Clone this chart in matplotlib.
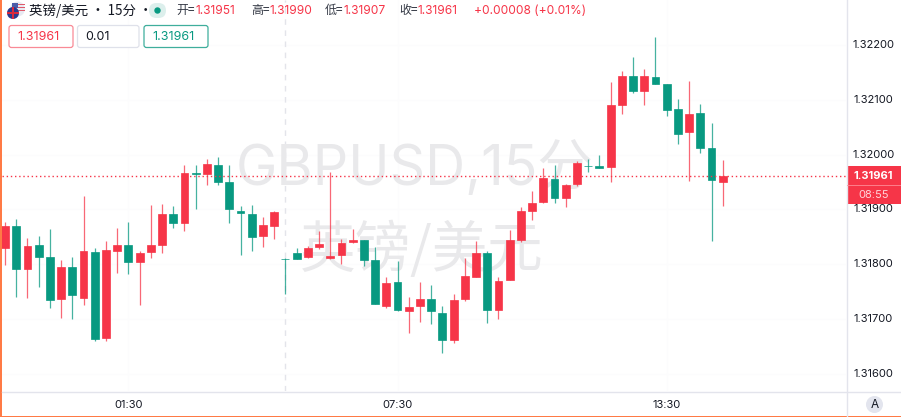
import matplotlib
matplotlib.use("Agg")
import matplotlib.pyplot as plt
from matplotlib.patches import FancyBboxPatch, Rectangle, Circle, Polygon
import numpy as np

opens = [131829,131870,131791,131835,131813,131737,131796,131739,131822,131666,131825,131835,131805,131822,131835,131892,131876,131966,131965,131982,131950,131898,131892,131851,131869,131810,131820,131813,131831,131811,131817,131841,131844,131808,131724,131768,131715,131724,131737,131712,131662,131737,131777,131820,131717,131772,131844,131898,131914,131956,131921,131946,131980,131979,131977,132091,132143,132116,132142,132128,132083,132041,132076,132013,131951]
highs = [131877,131883,131848,131852,131864,131808,131814,131925,131830,131842,131866,131878,131825,131909,131910,131906,131981,131981,131992,131996,131981,131906,131908,131886,131897,131812,131830,131833,131861,131968,131847,131865,131845,131832,131777,131806,131740,131767,131763,131724,131745,131811,131843,131824,131777,131863,131905,131934,131976,131981,131946,131988,131992,131999,132132,132153,132178,132156,132215,132129,132102,132134,132092,132057,131990]
lows = [131799,131741,131739,131759,131721,131703,131700,131726,131661,131661,131785,131782,131726,131812,131821,131867,131861,131901,131945,131945,131876,131817,131824,131832,131846,131746,131810,131812,131828,131809,131801,131839,131797,131728,131721,131714,131675,131695,131691,131639,131657,131733,131776,131693,131701,131772,131841,131880,131912,131912,131904,131943,131969,131975,131951,132074,132112,132091,132128,132071,132019,131952,132003,131843,131907]
closes = [131870,131791,131834,131814,131735,131796,131744,131824,131664,131826,131836,131805,131821,131835,131892,131875,131967,131965,131983,131951,131900,131894,131849,131872,131896,131809,131810,131830,131837,131815,131839,131844,131808,131728,131766,131717,131723,131737,131714,131662,131735,131779,131821,131717,131770,131844,131898,131912,131957,131921,131945,131985,131979,131975,132090,132143,132117,132143,132128,132081,132037,132075,132013,131953,131961]
price_scale = 1e-5
y_ticks = [1.316, 1.317, 1.318, 1.319, 1.320, 1.321, 1.322]
x_tick_bars = [11, 35, 59]
x_tick_labels = ["01:30", "07:30", "13:30"]
session_bar = 25
last_price = 1.31961
countdown = "08:55"

W, H = 901, 417
RED = "#F63548"; GREEN = "#089981"; GREY = "#131722"; WM = "#E9E9EB"
CJK = ["Noto Sans CJK SC", "DejaVu Sans"]
LAT = ["Inter", "Noto Sans CJK SC", "DejaVu Sans"]
plt.rcParams["font.family"] = LAT

fig = plt.figure(figsize=(W/100, H/100), dpi=100, facecolor="white")

# main price pane: pixel box x 2..846, y 0..391
ax = fig.add_axes([2/W, 1-391/H, 844/W, 391/H])
ppu = 54830  # px per 1.0 price
ax.set_ylim(1.322 - (391-45)/ppu, 1.322 + 45/ppu)
pxbar = 11.215
ax.set_xlim((2-5)/pxbar, (846-5)/pxbar)
ax.set_facecolor("white")
for s in ax.spines.values():
    s.set_visible(False)
ax.set_yticks([]); ax.set_xticks([])

idx = np.arange(len(opens))
o = np.array(opens)*price_scale; h = np.array(highs)*price_scale
l = np.array(lows)*price_scale; c = np.array(closes)*price_scale
cols = [RED if a > b else GREEN for a, b in zip(c, o)]

for t in y_ticks:
    ax.axhline(t, color="#FCFCFD", lw=0.8, zorder=0)
for b in x_tick_bars:
    ax.axvline(b, color="#FCFCFD", lw=0.8, zorder=0)
ax.axvline(session_bar, color="#E3E4EA", lw=1, ls=(0, (4, 4)), zorder=1)

ax.text(0.5, 0, "", transform=ax.transAxes)
# watermark
ax.text((415-5)/pxbar, 1.322-(168-45)/ppu, "GBPUSD,15分", fontsize=40, color=WM, ha="center", va="center", zorder=1, family=LAT)
ax.text((422-5)/pxbar, 1.322-(251-45)/ppu, "英镑/美元", fontsize=40, color=WM, ha="center", va="center", zorder=1, family=CJK)

ax.vlines(idx, l, h, colors=cols, lw=0.9, alpha=0.75, zorder=2)
ax.bar(idx, np.abs(c-o), bottom=np.minimum(o, c), width=0.70, color=cols,
       edgecolor=cols, linewidth=0.5, zorder=3)
ax.axhline(last_price, color=RED, lw=1, ls=(0, (1, 2)), zorder=4)

# overlay in pixel coordinates for chrome
ov = fig.add_axes([0, 0, 1, 1], zorder=5)
ov.set_xlim(0, W); ov.set_ylim(H, 0); ov.axis("off"); ov.patch.set_alpha(0)

ov.add_patch(Rectangle((0, 0), 1.6, H, color="#FF7A45", lw=0))
ov.add_patch(Rectangle((0, 415.8), W, 1.2, color="#FF7A45", lw=0))
ov.plot([846.5, 846.5], [0, 415.5], color="#E3E4EC", lw=1)
ov.plot([2, W], [391.5, 391.5], color="#E3E4EC", lw=1)

# y tick labels
for t in y_ticks:
    y = 45 + (1.322-t)*ppu
    ov.text(873.5, y, f"{t:.5f}", fontsize=8, color=GREY, ha="center", va="center")
# x tick labels
for b, lab in zip(x_tick_bars, x_tick_labels):
    ov.text(5+b*pxbar, 404.5, lab, fontsize=8, color=GREY, ha="center", va="center")

# price tag
ply = 45 + (1.322-last_price)*ppu
ov.add_patch(Rectangle((847, 166), 54, 38, color=RED, lw=0))
ov.plot([847, 901], [185, 185], color="#FF8A96", lw=0.6)
ov.text(873.5, 176, f"{last_price:.5f}", fontsize=8, color="white", ha="center", va="center", fontweight="bold")
ov.text(873.5, 195, countdown, fontsize=8, color="#FFD5DA", ha="center", va="center")

# auto button
ov.add_patch(Circle((874.5, 404.5), 8.5, color="#E3E5EE", lw=0))
ov.text(874.5, 404.5, "A", fontsize=8.5, color=GREY, ha="center", va="center")

# flag
ov.add_patch(Circle((17.5, 9), 7.5, color="#E8EAF2", lw=0))
for yy in (4, 7, 10):
    ov.add_patch(Rectangle((14, yy), 10.5, 1.4, color="#E05A6A", lw=0))
ov.add_patch(Rectangle((11.5, 2.5), 6, 5, color="#4A5CA8", lw=0))
ov.add_patch(Circle((13, 13), 6, color="#2B3A8C", lw=0))
ov.add_patch(Rectangle((7, 11.8), 12, 2.4, color="#D9283C", lw=0))
ov.add_patch(Rectangle((11.8, 7), 2.4, 12, color="#D9283C", lw=0))

hdr = 10.5
ov.text(29, hdr, "英镑/美元 • 15分 •", fontsize=9.7, color=GREY, va="center", family=CJK)
ov.add_patch(FancyBboxPatch((149, 3), 17, 15, boxstyle="round,pad=0,rounding_size=7.5", fc="#DCEFEC", ec="none", mutation_aspect=1))
ov.add_patch(Circle((157.5, 10.5), 3.2, color=GREEN, lw=0))

groups = [(176, "开=", "1.31951"), (251, "高=", "1.31990"), (325, "低=", "1.31907"), (399, "收=", "1.31961")]
for x, lab, val in groups:
    ov.text(x, hdr, lab, fontsize=8.6, color="#333844", va="center", family=CJK)
    ov.text(x+19, hdr, val, fontsize=8.6, color=RED, va="center")
ov.text(474, hdr, "+0.00008 (+0.01%)", fontsize=8.6, color=RED, va="center")

# order boxes
for (x0, x1, ec, tc, txt) in [(9, 73, "#F98A96", RED, "1.31961"), (77.5, 139, "#DFE1EA", GREY, "0.01"), (144, 208, "#3FAE9C", GREEN, "1.31961")]:
    ov.add_patch(FancyBboxPatch((x0, 25.5), x1-x0, 22, boxstyle="round,pad=0,rounding_size=2.5", fc="white", ec=ec, lw=0.9))
for x, tc, txt in [(17, RED, "1.31961"), (85.5, GREY, "0.01"), (152.5, GREEN, "1.31961")]:
    ov.text(x, 36.5, txt, fontsize=9, color=tc, va="center")

fig.savefig("out.png", dpi=100, facecolor="white")
